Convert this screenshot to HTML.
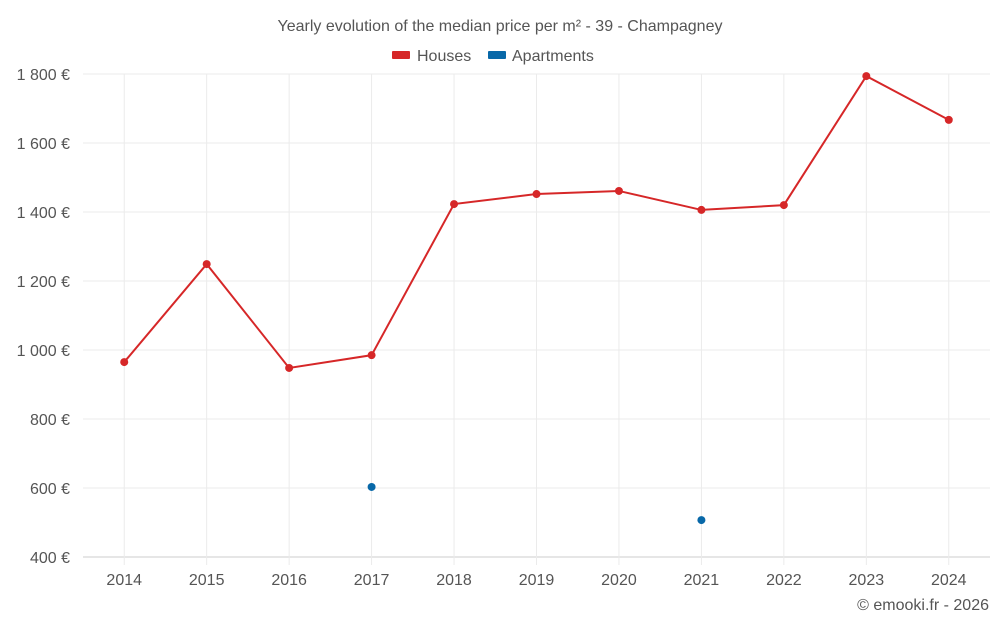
<!DOCTYPE html>
<html><head><meta charset="utf-8"><style>
body{margin:0;background:#fff;font-family:"Liberation Sans",sans-serif}
svg text{font-family:"Liberation Sans",sans-serif}
</style></head><body>
<svg id="c" width="1000" height="625"></svg>
<script>
const years=[2014,2015,2016,2017,2018,2019,2020,2021,2022,2023,2024];
const houses=[965,1249,948,985,1423,1452,1461,1406,1420,1794,1667];
const apartments=[null,null,null,603,null,null,null,507,null,null,null];
const yTicks=[400,600,800,1000,1200,1400,1600,1800];
const tickLabels=["400 €","600 €","800 €","1 000 €","1 200 €","1 400 €","1 600 €","1 800 €"];
const svg=document.getElementById('c');
const NS='http://www.w3.org/2000/svg';
const L=83,R=990,T=74,B=557;
const step=(R-L)/years.length;
const x=i=>L+step*(i+0.5);
const y=v=>B-(v-400)/(1800-400)*(B-T);
function mk(t,a,p){const e=document.createElementNS(NS,t);for(const k in a)e.setAttribute(k,a[k]);(p||svg).appendChild(e);return e;}
let t=mk('text',{x:500,y:31,'text-anchor':'middle','font-size':16,fill:'#555'});t.textContent='Yearly evolution of the median price per m² - 39 - Champagney';


const lg=mk('g',{});


mk('rect',{x:392,y:51,width:18,height:8,fill:'#d62728',rx:1},lg);
t=mk('text',{x:417,y:61,'font-size':16,fill:'#555'},lg);t.textContent='Houses';
mk('rect',{x:488,y:51,width:18,height:8,fill:'#0868a8',rx:1},lg);
t=mk('text',{x:512,y:61,'font-size':16,fill:'#555'},lg);t.textContent='Apartments';
yTicks.forEach((v,i)=>{
 const g=mk('line',{x1:L,x2:R,y1:y(v),y2:y(v),stroke:i==0?'#ccc':'#ebebeb'});
 
 
 const tx=mk('text',{x:70,y:y(v)+6,'text-anchor':'end','font-size':16,fill:'#555'});tx.textContent=tickLabels[i];
 
 
});
years.forEach((yr,i)=>{
 const g=mk('line',{x1:x(i),x2:x(i),y1:T,y2:B+8,stroke:'#ebebeb'});
 
 
 const tx=mk('text',{x:x(i),y:585,'text-anchor':'middle','font-size':16,fill:'#555'});tx.textContent=yr;
 
 
});
const pl=mk('polyline',{points:houses.map((v,i)=>x(i)+','+y(v)).join(' '),fill:'none',stroke:'#d62728','stroke-width':2});


houses.forEach((v,i)=>{const c=mk('circle',{cx:x(i),cy:y(v),r:4,fill:'#d62728'});
 
 });
apartments.forEach((v,i)=>{if(v==null)return;const c=mk('circle',{cx:x(i),cy:y(v),r:4,fill:'#0868a8'});
 
 });
t=mk('text',{x:989,y:610,'text-anchor':'end','font-size':16,fill:'#555'});t.textContent='© emooki.fr - 2026';


</script>
</body></html>
